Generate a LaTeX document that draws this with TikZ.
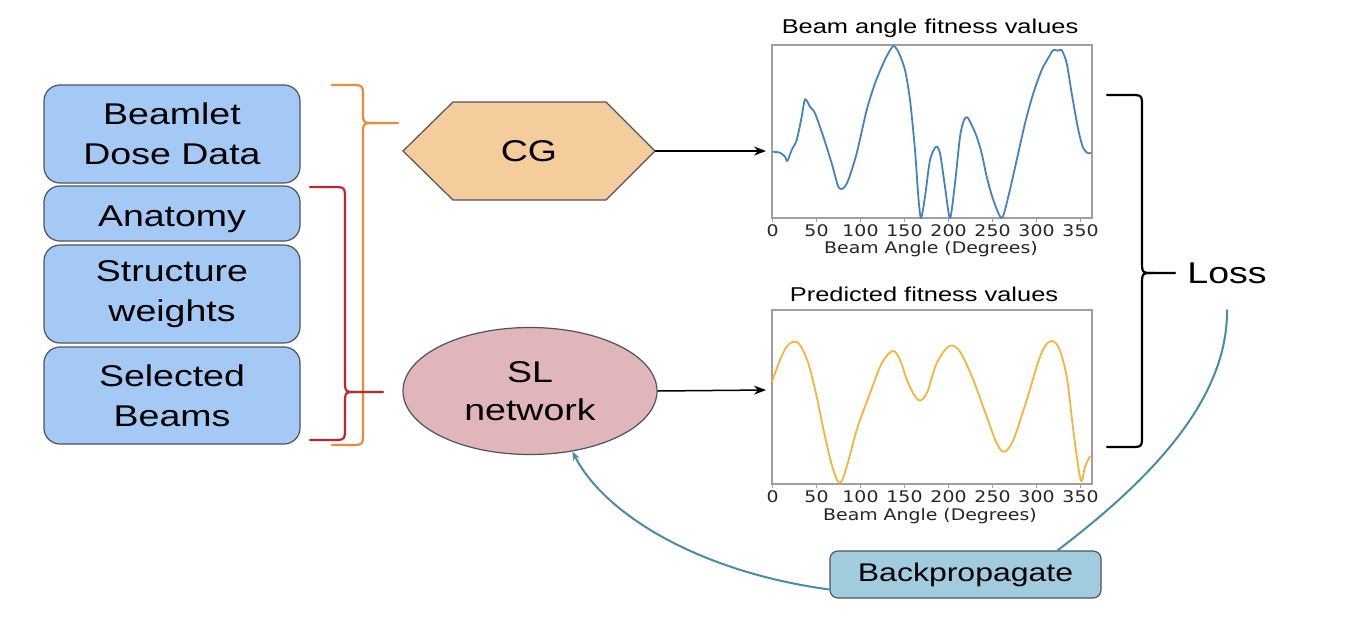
\documentclass[tikz,border=0pt]{standalone}
\usepackage{fontspec}
\setmainfont{Liberation Sans}
\newfontfamily\wf[FakeStretch=1.25]{Liberation Sans}
\newfontfamily\tf[FakeStretch=1.27]{Liberation Sans}
\newfontfamily\pf[FakeStretch=1.18]{DejaVu Sans}
\usetikzlibrary{arrows.meta,shapes.geometric}
\definecolor{boxblue}{RGB}{164,201,245}
\definecolor{boxedge}{RGB}{80,84,90}
\definecolor{cgfill}{RGB}{245,204,156}
\definecolor{slfill}{RGB}{224,182,186}
\definecolor{bpfill}{RGB}{160,204,222}
\definecolor{bporange}{RGB}{232,140,60}
\definecolor{bpred}{RGB}{190,40,45}
\definecolor{teal}{RGB}{74,140,166}
\definecolor{cblue}{RGB}{70,130,190}
\definecolor{cyellow}{RGB}{242,182,62}
\definecolor{framegray}{RGB}{160,160,160}
\begin{document}
\begin{tikzpicture}[x=1pt,y=-1pt,
  inbox/.style={draw=boxedge,line width=1.2pt,fill=boxblue,rounded corners=16pt,
    minimum width=256pt,align=center,inner sep=0pt,font=\wf\fontsize{30}{40}\selectfont},
  bigtext/.style={align=center,inner sep=0pt,font=\wf\fontsize{30}{38}\selectfont},
  brace/.style={line width=2.2pt,line cap=round,line join=round},
  arr/.style={line width=1.5pt,-{Stealth[length=12pt,width=9pt]}},
  tarr/.style={draw=teal,line width=2pt},
  plotframe/.style={draw=framegray,line width=1.2pt,minimum width=320pt,inner sep=0pt},
  ticklab/.style={inner sep=0pt,font=\pf\fontsize{16}{18}\selectfont,text=black!85},
  ptitle/.style={inner sep=0pt,font=\tf\fontsize{20}{22}\selectfont},
  tickmark/.style={draw=framegray,line width=1pt},
  bluecurve/.style={draw=cblue,line width=1.8pt,line join=round},
  yelcurve/.style={draw=cyellow,line width=1.8pt,line join=round}
]
\useasboundingbox[fill=white] (0,0) rectangle (1355,635);

% input boxes
\node[inbox,minimum height=98pt] (bdd) at (172,134) {Beamlet\\Dose Data};
\node[inbox,minimum height=55pt] (anat) at (172,213.5) {\raisebox{-2.5pt}[21.5pt][0pt]{Anatomy}};
\node[inbox,minimum height=98pt] (sw) at (172,294) {Structure\\weights};
\node[inbox,minimum height=97pt] (sb) at (172,395.5) {Selected\\Beams};

% orange brace
\draw[brace,bporange] (332,85) -- (350,85) .. controls (363,85) .. (363,98) -- (363,111)
  .. controls (363,123) .. (375,123) -- (398,123);
\draw[brace,bporange] (375,123) .. controls (363,123) .. (363,135) -- (363,432)
  .. controls (363,445) .. (350,445) -- (332,445);
% red brace
\draw[brace,bpred] (310,187) -- (332,187) .. controls (345,187) .. (345,200) -- (345,380)
  .. controls (345,392) .. (357,392) -- (383,392);
\draw[brace,bpred] (357,392) .. controls (345,392) .. (345,404) -- (345,427)
  .. controls (345,440) .. (332,440) -- (310,440);

% CG hexagon
\draw[draw=boxedge,line width=1.2pt,fill=cgfill]
  (403,151) -- (453,102) -- (606,102) -- (655,151) -- (606,200) -- (453,200) -- cycle;
\node[bigtext] (cg) at (529,151) {CG};
\coordinate (cgR) at (655,151);

% SL ellipse
\node[ellipse,draw=boxedge,line width=1.2pt,fill=slfill,minimum width=254pt,minimum height=127pt,
  bigtext] (sl) at (530,391) {SL\\network};

% plot frames
\node[plotframe,minimum height=173pt] (p1) at (932,131.5) {};
\node[plotframe,minimum height=174pt] (p2) at (932,397) {};
\coordinate (p1in) at (766,151);
\coordinate (p2in) at (766,390);
\draw[arr] (cgR) -- (p1in);
\draw[arr] (sl.east) -- (p2in);

% titles
\node[ptitle] (t1) at (930,28) {Beam angle fitness values};
\node[ptitle] (t2) at (924,294) {Predicted fitness values};

% ticks
\foreach \d in {0,50,...,350} {
  \draw[tickmark] (772.5+\d*0.88,218) -- ++(0,4);
  \node[ticklab] at (772.5+\d*0.88,230.5) {\d};
  \draw[tickmark] (772.5+\d*0.88,484) -- ++(0,4);
  \node[ticklab] at (772.5+\d*0.88,497) {\d};
}
\node[ticklab] (xl1) at (931,249.5) {Beam Angle (Degrees)};
\node[ticklab] (xl2) at (930,516) {Beam Angle (Degrees)};

% blue curve
\draw[bluecurve] plot[smooth,tension=0.45] coordinates {
(772.7,151.7) (780,152.7) (785,156.7) (787.3,161) (791.7,150) (796.7,140) (801.7,116.7)
(805,99.3) (810,106.7) (815,113.3) (823.3,136.7) (831.7,163.3) (838.3,186.7) (843.3,188.3)
(848.3,180) (856.7,153.3) (866.7,110) (875,83.3) (883.3,63.3) (888.3,53.3) (893.3,46)
(898.3,51.7) (905,70) (910,100) (915,150) (918.3,196.7) (921,218) (925,196.7) (930,160)
(936,146.7) (940,153.3) (945,186.7) (950,218) (955,183.3) (960,136.7) (964,120) (967.3,117.3)
(971.7,125) (976.7,136.7) (981.7,153.3) (986.7,176.7) (993.3,200) (1001.7,218) (1008.3,196.7)
(1016.7,160) (1025,123.3) (1033.3,93.3) (1041.7,70) (1050,55) (1053.3,50) (1058.3,50.7)
(1061.7,50) (1066.7,63.3) (1071.7,93.3) (1078.3,130) (1083.3,148.3) (1088.3,153.3) (1091,152.7)};

% yellow curve
\draw[yelcurve] plot[smooth,tension=0.55] coordinates {
(772,381.7) (780,360) (786.7,346.7) (793.3,341.7) (800,345) (808.3,363.3) (816.7,396.7)
(825,436.7) (833.3,470) (840,483) (846.7,466.7) (856.7,430) (870,393.3) (881.7,363.3)
(892.7,351) (900,360) (908.3,383.3) (918.3,400) (926.7,393.3) (936.7,363.3) (949.3,346)
(960,351.7) (973.3,380) (986.7,416.7) (996.7,443.3) (1004.3,451.7) (1013.3,440) (1026.7,400)
(1040,356.7) (1049.3,341.7) (1058.3,346.7) (1066.7,376.7) (1073.3,430) (1080.7,480)
(1085,466.7) (1090,456)};

% Loss bracket
\draw[brace,black] (1107,95) -- (1130,95) .. controls (1142,95) .. (1142,107) -- (1142,261)
  .. controls (1142,273) .. (1154,273) -- (1175,273);
\draw[brace,black] (1154,273) .. controls (1142,273) .. (1142,285) -- (1142,435)
  .. controls (1142,447) .. (1130,447) -- (1107,447);
\node[bigtext] (loss) at (1227,273) {Loss};

% Backpropagate
\node[draw=boxedge,line width=1.2pt,fill=bpfill,rounded corners=8pt,minimum width=271pt,
  minimum height=47pt,inner sep=0pt,font=\wf\fontsize{25.6}{30}\selectfont] (bp) at (965.5,574.5) {Backpropagate};
\draw[tarr,-{Stealth[length=9pt,width=7pt]}] ([yshift=-15pt]bp.west) .. controls (700,572) and (605,515) .. (sl.-55);
\draw[tarr] ([xshift=92pt]bp.north) .. controls (1150,480) and (1228,400) .. ([yshift=-26pt]loss.south);
\end{tikzpicture}
\end{document}
